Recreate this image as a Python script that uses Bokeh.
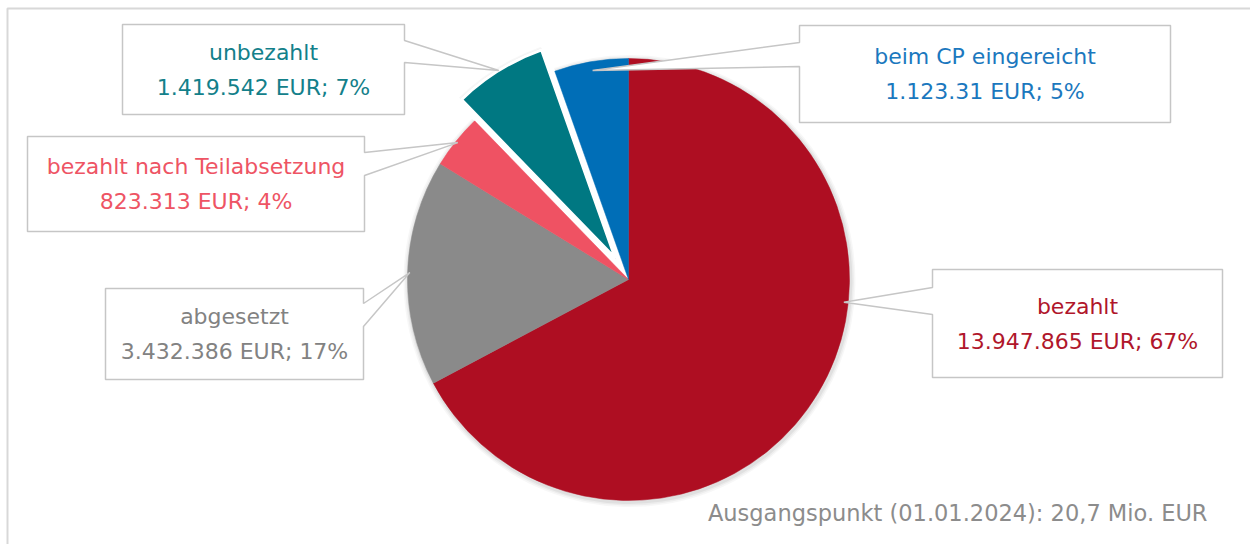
import math
from bokeh.plotting import figure
from bokeh.models import Range1d, ColumnDataSource
from bokeh.core.properties import value
from bokeh.embed import file_html
from bokeh.resources import INLINE

# ---------------- data ----------------
categories = ["bezahlt", "abgesetzt", "bezahlt nach Teilabsetzung", "unbezahlt", "beim CP eingereicht"]
amounts = [13947865, 3432386, 823313, 1419542, 1123310]
value_labels = ["13.947.865 EUR; 67%", "3.432.386 EUR; 17%", "823.313 EUR; 4%",
                "1.419.542 EUR; 7%", "1.123.31 EUR; 5%"]
footnote = "Ausgangspunkt (01.01.2024): 20,7 Mio. EUR"

# ---------------- styles / layout ----------------
slice_colors = ["#AE0E22", "#8A8A8A", "#EF5263", "#007882", "#006EB7"]
text_colors = ["#B0162B", "#828282", "#EE5464", "#13808A", "#1B78BE"]
W, H = 1250, 544
CX, CY, R = 628, 279, 221           # pie centre / radius in pixels
explode_px = {"unbezahlt": 25}
FONT = "DejaVu Sans"
FS = "22px"

# callout boxes: (left, top, right, bottom), side of pointer, pointer base y's, tip angle override
callouts = {
    "bezahlt": dict(box=(932, 269, 1222, 377), side="left", base=(287, 314), tip_angle=-6.0, tip_r=0.98),
    "abgesetzt": dict(box=(105, 288, 363, 379), side="right", base=(303, 326), tip_angle=None, tip_r=0.99),
    "bezahlt nach Teilabsetzung": dict(box=(27, 136, 364, 231), side="right", base=(152, 175), tip_angle=None, tip_r=0.99),
    "unbezahlt": dict(box=(122, 24, 404, 114), side="right", base=(40, 62), tip_angle=None, tip_r=1.0),
    "beim CP eingereicht": dict(box=(799, 25, 1170, 122), side="left", base=(42, 66), tip_angle=None, tip_r=0.96),
}


def Y(py):
    return H - py


p = figure(width=W, height=H, x_range=Range1d(0, W), y_range=Range1d(0, H),
           x_axis_location=None, y_axis_location=None, toolbar_location=None,
           output_backend="svg", min_border=0, outline_line_color=None,
           background_fill_color="white", border_fill_color="white")
p.grid.visible = False

# outer frame (cropped)
p.line([7, 7, W + 5], [Y(H + 5), Y(8), Y(8)], line_color="#D8D8D8", line_width=2)

# ---------------- pie geometry ----------------
total = float(sum(amounts))
starts, ends, xs, ys, mids = [], [], [], [], []
theta = 90.0
for cat, a in zip(categories, amounts):
    sweep = 360.0 * a / total
    t0, t1 = theta - sweep, theta
    mid = (t0 + t1) / 2
    off = explode_px.get(cat, 0)
    xs.append(CX + off * math.cos(math.radians(mid)))
    ys.append(Y(CY) + off * math.sin(math.radians(mid)))
    starts.append(math.radians(t0))
    ends.append(math.radians(t1))
    mids.append(mid)
    theta = t0

# soft shadow
for k, a in [(5, 0.03), (3.5, 0.04), (2, 0.05)]:
    p.wedge(x=[x + 1 for x in xs], y=[y - 1.5 for y in ys], radius=R + k, start_angle=starts,
            end_angle=ends, fill_color="black", fill_alpha=a, line_color=None)

normal = [i for i, c in enumerate(categories) if c not in explode_px]
exploded = [i for i, c in enumerate(categories) if c in explode_px]
p.wedge(x=[xs[i] for i in normal], y=[ys[i] for i in normal], radius=R,
        start_angle=[starts[i] for i in normal], end_angle=[ends[i] for i in normal],
        fill_color=[slice_colors[i] for i in normal], line_color=[slice_colors[i] for i in normal],
        line_width=0.5)
p.wedge(x=[xs[i] for i in exploded], y=[ys[i] for i in exploded], radius=R,
        start_angle=[starts[i] for i in exploded], end_angle=[ends[i] for i in exploded],
        fill_color=[slice_colors[i] for i in exploded], line_color="white", line_width=3)

# ---------------- callouts ----------------
for i, cat in enumerate(categories):
    co = callouts[cat]
    L, T, Rt, B = co["box"]
    ang = co["tip_angle"] if co["tip_angle"] is not None else mids[i]
    tx = xs[i] + R * co["tip_r"] * math.cos(math.radians(ang))
    ty = ys[i] + R * co["tip_r"] * math.sin(math.radians(ang))
    b1, b2 = co["base"]
    if co["side"] == "right":
        px = [L, Rt, Rt, tx, Rt, Rt, L]
        py = [Y(T), Y(T), Y(b1), ty, Y(b2), Y(B), Y(B)]
    else:
        px = [L, Rt, Rt, L, L, tx, L]
        py = [Y(T), Y(T), Y(B), Y(B), Y(b2), ty, Y(b1)]
    p.patch(px, py, fill_color="white", line_color="#C6C6C6", line_width=1.5)
    cx = (L + Rt) / 2
    cy = (T + B) / 2
    p.text(x=[cx, cx], y=[Y(cy - 17.5), Y(cy + 17.5)], text=[cat, value_labels[i]],
           text_align="center", text_baseline="middle", text_color=text_colors[i],
           text_font=value(FONT), text_font_size=FS)

p.text(x=[1207], y=[Y(512)], text=[footnote], text_align="right", text_baseline="middle",
       text_color="#8C8C8C", text_font=value(FONT), text_font_size="22.5px")

open("out.html", "w").write(file_html(p, INLINE))
